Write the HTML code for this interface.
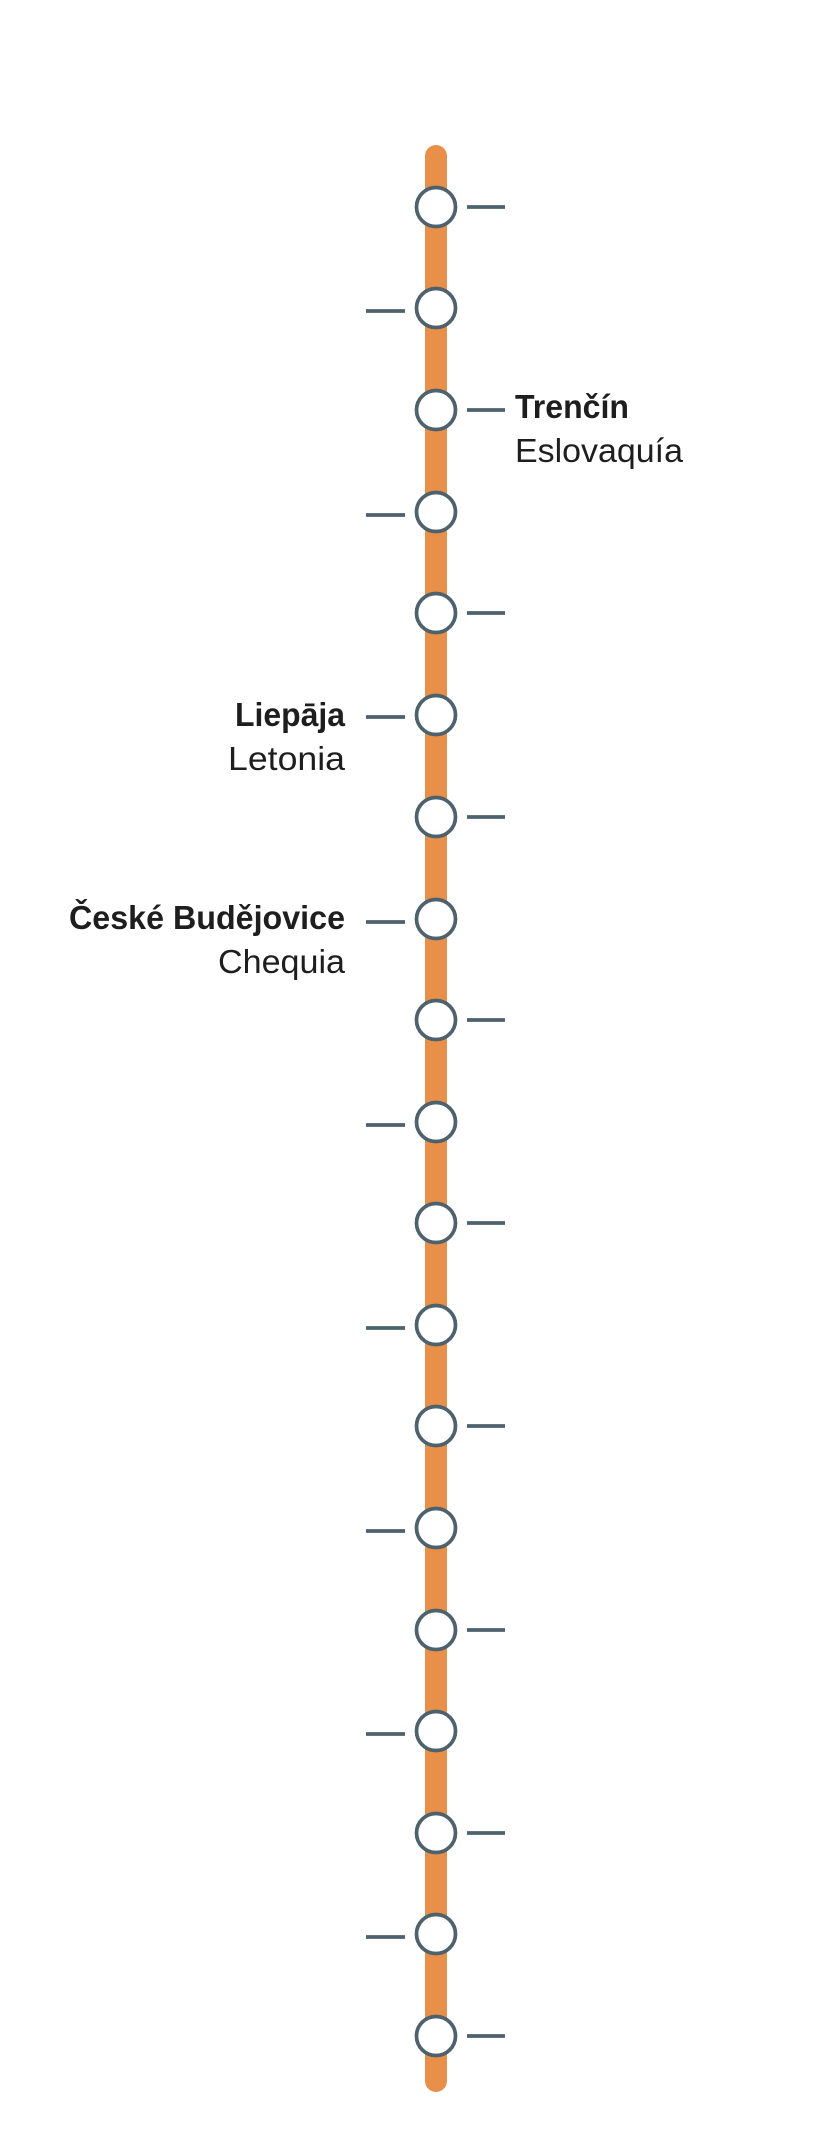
<!DOCTYPE html>
<html><head><meta charset="utf-8"><style>html,body{margin:0;padding:0;background:#fff}svg{display:block}text{font-family:"Liberation Sans",sans-serif;fill:#1e1e1e}</style></head>
<body>
<svg width="830" height="2134" viewBox="0 0 830 2134" xmlns="http://www.w3.org/2000/svg">
<line x1="436" y1="156" x2="436" y2="2081" stroke="#e8904a" stroke-width="22" stroke-linecap="round"/>
<g stroke="#4d626d" stroke-width="3.7" fill="#fff">
<line x1="467" y1="207" x2="505" y2="207"/><circle cx="436" cy="207" r="19.5"/>
<line x1="366" y1="311" x2="405" y2="311"/><circle cx="436" cy="308" r="19.5"/>
<line x1="467" y1="410" x2="505" y2="410"/><circle cx="436" cy="410" r="19.5"/>
<line x1="366" y1="515" x2="405" y2="515"/><circle cx="436" cy="512" r="19.5"/>
<line x1="467" y1="613" x2="505" y2="613"/><circle cx="436" cy="613" r="19.5"/>
<line x1="366" y1="717" x2="405" y2="717"/><circle cx="436" cy="715" r="19.5"/>
<line x1="467" y1="817" x2="505" y2="817"/><circle cx="436" cy="817" r="19.5"/>
<line x1="366" y1="922" x2="405" y2="922"/><circle cx="436" cy="919" r="19.5"/>
<line x1="467" y1="1020" x2="505" y2="1020"/><circle cx="436" cy="1020" r="19.5"/>
<line x1="366" y1="1125" x2="405" y2="1125"/><circle cx="436" cy="1122" r="19.5"/>
<line x1="467" y1="1223" x2="505" y2="1223"/><circle cx="436" cy="1223" r="19.5"/>
<line x1="366" y1="1328" x2="405" y2="1328"/><circle cx="436" cy="1325" r="19.5"/>
<line x1="467" y1="1426" x2="505" y2="1426"/><circle cx="436" cy="1426" r="19.5"/>
<line x1="366" y1="1531" x2="405" y2="1531"/><circle cx="436" cy="1528" r="19.5"/>
<line x1="467" y1="1630" x2="505" y2="1630"/><circle cx="436" cy="1630" r="19.5"/>
<line x1="366" y1="1734" x2="405" y2="1734"/><circle cx="436" cy="1731" r="19.5"/>
<line x1="467" y1="1833" x2="505" y2="1833"/><circle cx="436" cy="1833" r="19.5"/>
<line x1="366" y1="1937" x2="405" y2="1937"/><circle cx="436" cy="1934" r="19.5"/>
<line x1="467" y1="2036" x2="505" y2="2036"/><circle cx="436" cy="2036" r="19.5"/>
</g>
<text x="515" y="418" font-size="33" font-weight="bold" textLength="114" lengthAdjust="spacingAndGlyphs">Trenčín</text>
<text x="515" y="462" font-size="33" textLength="168" lengthAdjust="spacingAndGlyphs">Eslovaquía</text>
<text x="345" y="726" font-size="33" font-weight="bold" text-anchor="end" textLength="110" lengthAdjust="spacingAndGlyphs">Liepāja</text>
<text x="345" y="770" font-size="33" text-anchor="end" textLength="117" lengthAdjust="spacingAndGlyphs">Letonia</text>
<text x="345" y="929" font-size="33" font-weight="bold" text-anchor="end" textLength="276" lengthAdjust="spacingAndGlyphs">České Budějovice</text>
<text x="345" y="973" font-size="33" text-anchor="end" textLength="127" lengthAdjust="spacingAndGlyphs">Chequia</text>
</svg>
</body></html>
